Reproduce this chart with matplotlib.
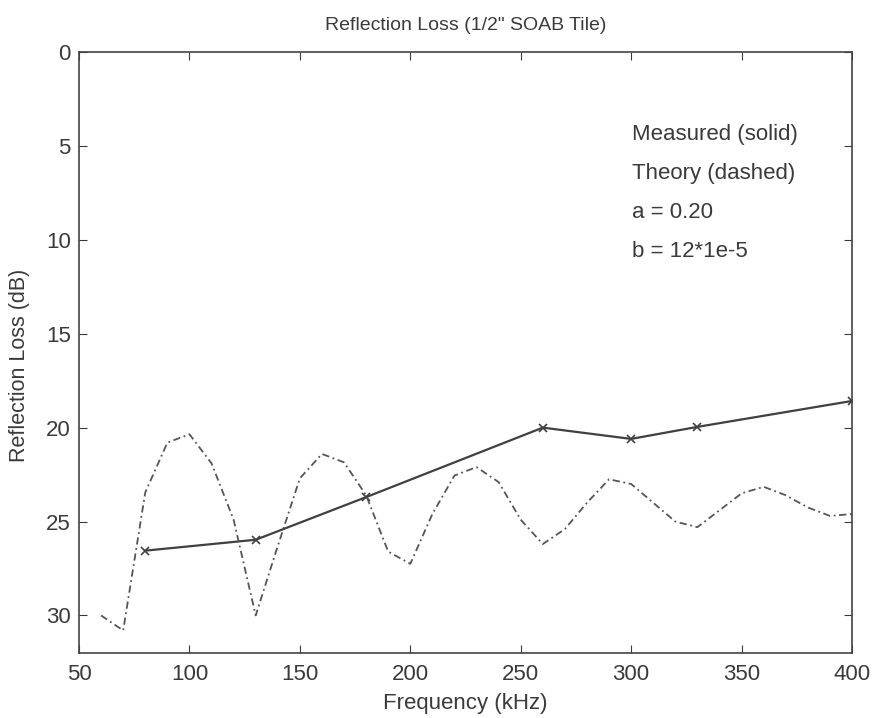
import numpy as np
import matplotlib
matplotlib.use('Agg')
import matplotlib.pyplot as plt

# Measured reflection loss (solid line with x markers)
freq_meas = [80, 130, 180, 260, 300, 330, 400]
loss_meas = [26.55, 25.97, 23.7, 20.0, 20.6, 19.96, 18.58]

# Theory (dash-dot line), every 10 kHz
freq_theory = [60, 70, 80, 90, 100, 110, 120, 130, 140, 150, 160, 170, 180, 190,
               200, 210, 220, 230, 240, 250, 260, 270, 280, 290, 300, 310, 320,
               330, 340, 350, 360, 370, 380, 390, 400]
loss_theory = [30.0, 30.8, 23.45, 20.8, 20.35, 21.9, 24.9, 30.0, 26.3, 22.7, 21.4,
               21.85, 23.6, 26.6, 27.25, 24.6, 22.55, 22.1, 22.9, 24.9, 26.2, 25.4,
               24.0, 22.75, 23.0, 24.0, 25.0, 25.3, 24.4, 23.5, 23.15, 23.6, 24.25,
               24.7, 24.6]

notes = ['Measured (solid)', 'Theory (dashed)', 'a = 0.20', 'b = 12*1e-5']

plt.rcParams['font.family'] = ['Liberation Sans', 'DejaVu Sans']

fig = plt.figure(figsize=(8.75, 7.18), dpi=100)
ax = fig.add_axes([0.0903, 0.0905, 0.8834, 0.8371])

ax.plot(freq_meas, loss_meas, color='#404040', lw=1.6, marker='x', ms=6, mew=1.2)
ax.plot(freq_theory, loss_theory, color='#555555', lw=1.3, linestyle=(0, (4, 2, 1, 2)))

ax.set_xlim(50, 400)
ax.set_ylim(32, 0)
ax.set_xticks(np.arange(50, 401, 50))
ax.set_yticks(np.arange(0, 31, 5))

ax.tick_params(direction='in', top=True, right=True, length=6, colors='#3a3a3a',
               labelsize=16)
ax.tick_params(axis='x', pad=8)
ax.tick_params(axis='y', pad=6)
for sp in ax.spines.values():
    sp.set_color('#444444')
    sp.set_linewidth(1.2)

ax.set_xlabel('Frequency (kHz)', color='#3a3a3a', fontsize=16, labelpad=6)
ax.set_ylabel('Reflection Loss (dB)', color='#3a3a3a', fontsize=15.5)
ax.yaxis.set_label_coords(-0.063, 0.479)
ax.set_title('Reflection Loss (1/2" SOAB Tile)', color='#3a3a3a', fontsize=14, pad=16)

# annotation block, upper right
for i, txt in enumerate(notes):
    ax.text(300.5, 4.68 + i * 2.07, txt, fontsize=16, color='#3a3a3a', va='baseline')

fig.savefig('out.png', dpi=100)
